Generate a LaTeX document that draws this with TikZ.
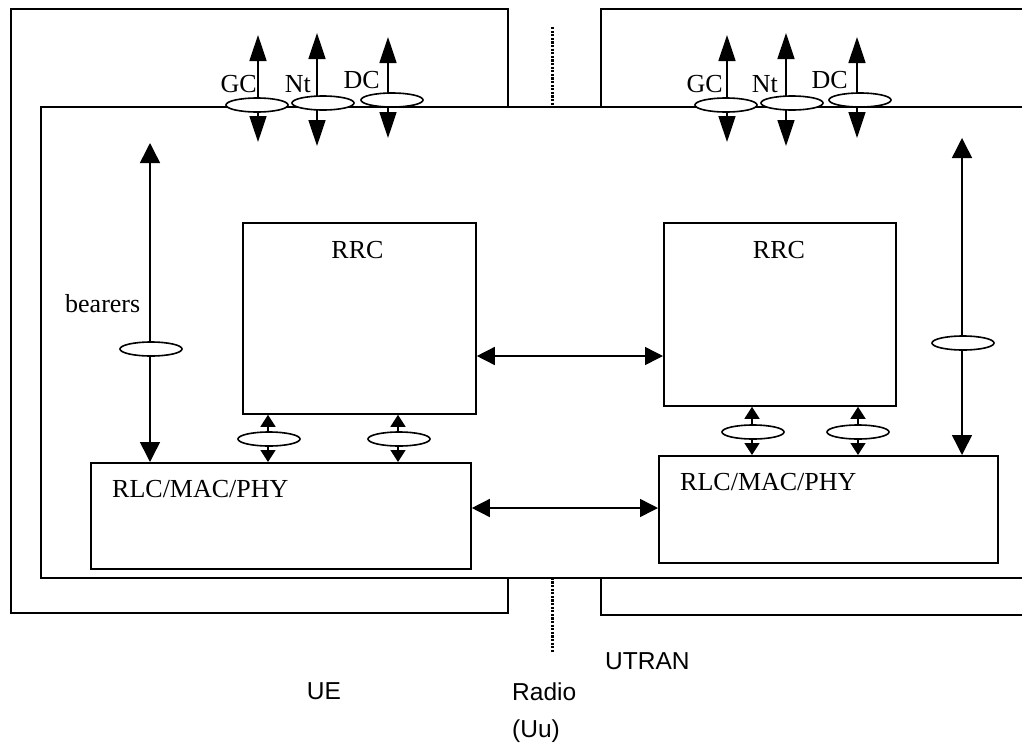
\documentclass[tikz,border=0pt]{standalone}
\usepackage{fontspec}
\setmainfont{Liberation Serif}
\newfontfamily\arialfont{Liberation Sans}
\usetikzlibrary{arrows.meta,shapes.geometric}
\begin{document}
\begin{tikzpicture}[x=1pt,y=-1pt,
  box/.style={draw, line width=1.8pt, fill=white, inner sep=0pt, anchor=north west},
  bundle/.style={ellipse, draw, line width=1.6pt, fill=white, minimum width=62pt, minimum height=14pt, inner sep=0pt},
  lbl/.style={font=\fontsize{26}{30}\selectfont, inner sep=0pt},
  sans/.style={font=\arialfont\fontsize{24.5}{30}\selectfont, inner sep=0pt},
  toparr/.style={line width=1.5pt, {Triangle[length=26pt,width=17pt]}-{Triangle[length=26pt,width=17pt]}},
  bigarr/.style={line width=1.5pt, {Triangle[length=20pt,width=20pt]}-{Triangle[length=20pt,width=20pt]}},
  harr/.style={line width=1.5pt, {Triangle[length=18pt,width=18pt]}-{Triangle[length=18pt,width=18pt]}},
  smarr/.style={line width=1.5pt, {Triangle[length=12pt,width=15pt]}-{Triangle[length=12pt,width=15pt]}},
  radioline/.style={line width=3pt, dash pattern=on 2.2pt off 1.4pt}
]
\useasboundingbox (0,0) rectangle (1022,742);
\clip (0,0) rectangle (1022,742);

% outer domains
\node[box, minimum width=497pt, minimum height=604pt] (ue) at (10,8) {};
\node[box, minimum width=450pt, minimum height=606pt] (utran) at (600,8) {};

% radio interface line
\coordinate (d1) at (552,27);
\coordinate (d2) at (552,653);
\draw[radioline] (d1) -- (d2);

% inner box
\node[box, minimum width=1000pt, minimum height=471pt] (inner) at (40,106) {};

% functional blocks
\node[box, minimum width=233pt, minimum height=191pt] (rrcL) at (242,222) {};
\node[box, minimum width=232pt, minimum height=183pt] (rrcR) at (663,222) {};
\node[box, minimum width=380pt, minimum height=106pt] (rlcL) at (90,462) {};
\node[box, minimum width=339pt, minimum height=107pt] (rlcR) at (658,455) {};

\node[lbl, anchor=base] (rrcLt) at (357.5,258) {RRC};
\node[lbl, anchor=base] (rrcRt) at (779,258) {RRC};
\node[lbl, anchor=base west] (rlcLt) at (112,497) {RLC/MAC/PHY};
\node[lbl, anchor=base west] (rlcRt) at (680,490) {RLC/MAC/PHY};

% peer arrows
\draw[harr] (rrcL.east |- 0,356) -- (rrcR.west |- 0,356);
\draw[harr] (rlcL.east |- 0,508) -- (rlcR.west |- 0,508);

% RRC <-> RLC arrows
\draw[smarr] (rrcL.south -| 268,0) -- (rlcL.north -| 268,0);
\draw[smarr] (rrcL.south -| 398,0) -- (rlcL.north -| 398,0);
\draw[smarr] (rrcR.south -| 752,0) -- (rlcR.north -| 752,0);
\draw[smarr] (rrcR.south -| 858,0) -- (rlcR.north -| 858,0);
\node[bundle] (eL1) at (269,439) {};
\node[bundle] (eL2) at (399,439) {};
\node[bundle] (eR1) at (753,432) {};
\node[bundle] (eR2) at (858,432) {};

% bearers
\coordinate (bTop) at (150,143);
\draw[bigarr] (bTop) -- (rlcL.north -| 150,0);
\node[bundle] (eb) at (151,349) {};
\node[lbl, anchor=base west] (bearers) at (65,312) {bearers};

\coordinate (uTop) at (962,138);
\draw[bigarr] (uTop) -- (rlcR.north -| 962,0);
\node[bundle] (eu) at (963,343) {};

% top SAPs, UE side
\coordinate (gcLt) at (258,35);  \coordinate (gcLb) at (258,142);
\coordinate (ntLt) at (317,33);  \coordinate (ntLb) at (317,146);
\coordinate (dcLt) at (388,37);  \coordinate (dcLb) at (388,138);
\draw[toparr] (gcLt) -- (gcLb);
\draw[toparr] (ntLt) -- (ntLb);
\draw[toparr] (dcLt) -- (dcLb);
\node[bundle] (egcL) at (257,105) {};
\node[bundle] (entL) at (323,103) {};
\node[bundle] (edcL) at (392,100) {};
\node[lbl, anchor=base east] (gcLl) at (257,92) {GC};
\node[lbl, anchor=base east] (ntLl) at (311,92) {Nt};
\node[lbl, anchor=base east] (dcLl) at (380,88) {DC};

% top SAPs, UTRAN side
\coordinate (gcRt) at (727,35);  \coordinate (gcRb) at (727,142);
\coordinate (ntRt) at (786,33);  \coordinate (ntRb) at (786,146);
\coordinate (dcRt) at (857,37);  \coordinate (dcRb) at (857,138);
\draw[toparr] (gcRt) -- (gcRb);
\draw[toparr] (ntRt) -- (ntRb);
\draw[toparr] (dcRt) -- (dcRb);
\node[bundle] (egcR) at (726,105) {};
\node[bundle] (entR) at (792,103) {};
\node[bundle] (edcR) at (860,100) {};
\node[lbl, anchor=base east] (gcRl) at (723,92) {GC};
\node[lbl, anchor=base east] (ntRl) at (778,92) {Nt};
\node[lbl, anchor=base east] (dcRl) at (848,88) {DC};

% domain labels
\node[sans, anchor=base] (uelbl) at (324,699) {UE};
\node[sans, anchor=base west] (utranlbl) at (605,669) {UTRAN};
\node[sans, anchor=base west] (radio1) at (512,700) {Radio};
\node[sans, anchor=base west] (radio2) at (512,737) {(Uu)};
\end{tikzpicture}
\end{document}
